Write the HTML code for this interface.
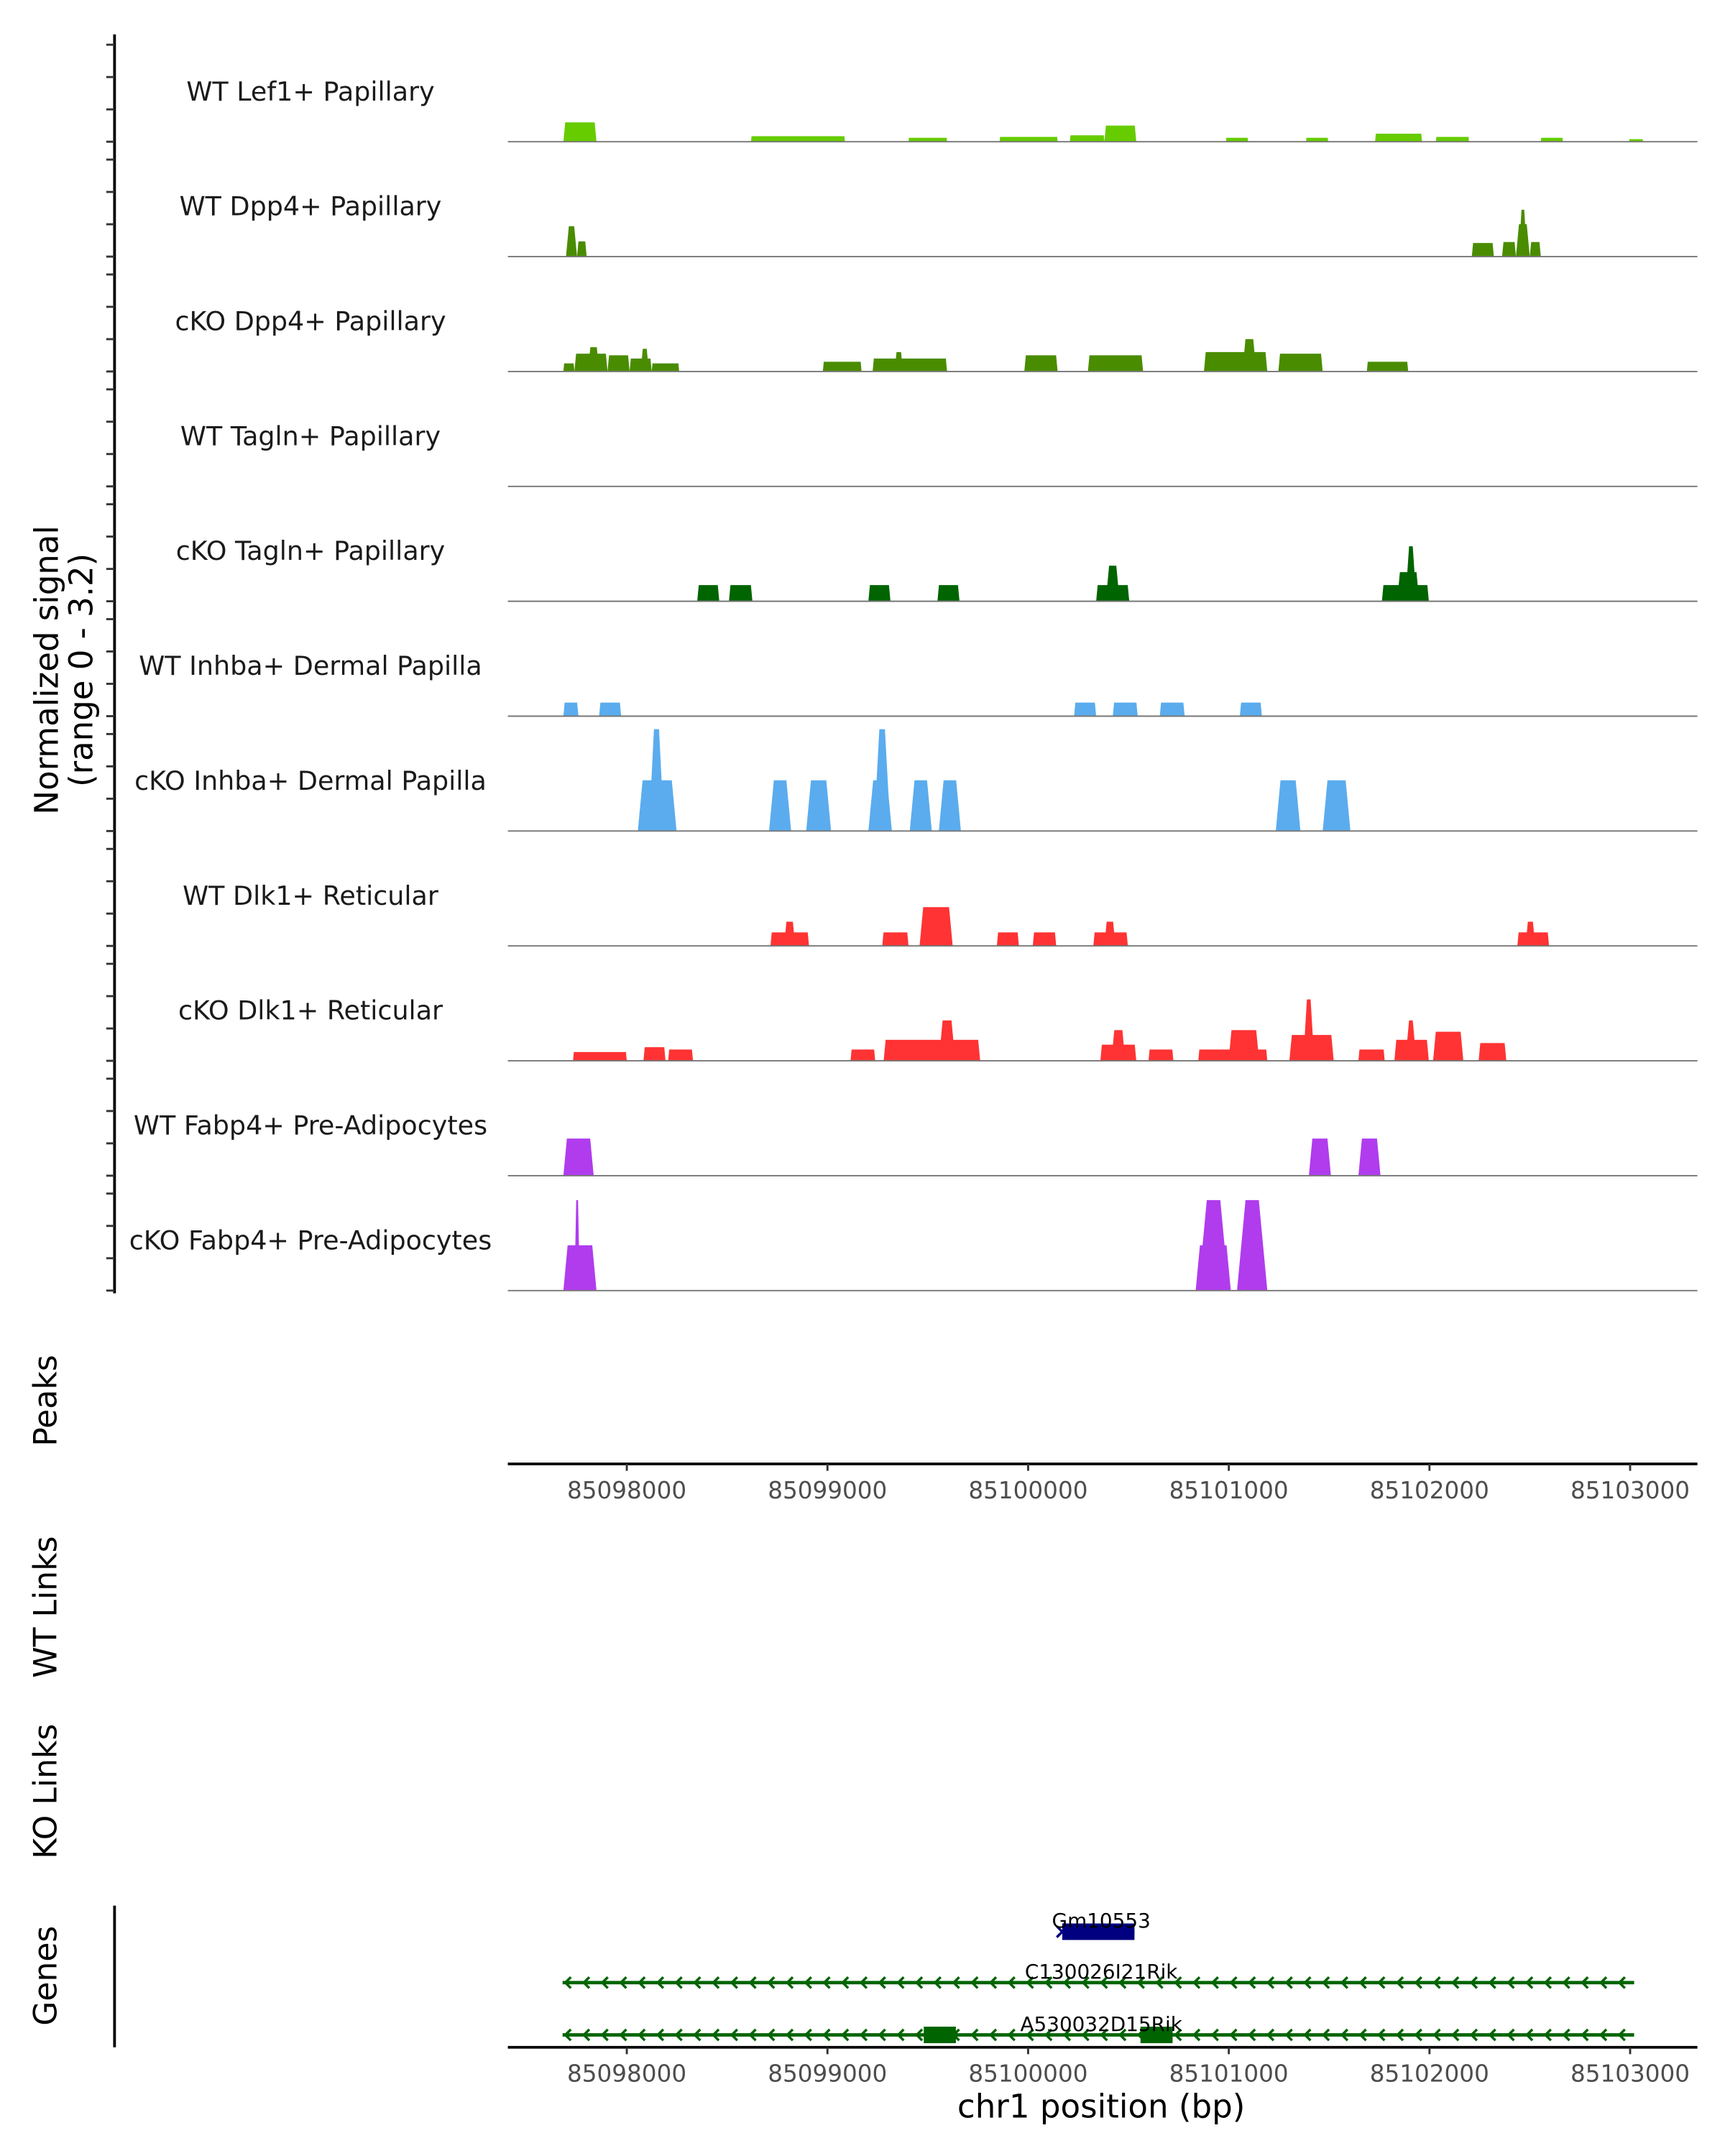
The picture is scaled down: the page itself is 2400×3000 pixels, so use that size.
<!DOCTYPE html>
<html><head><meta charset="utf-8">
<style>
html,body{margin:0;padding:0;background:#fff;}
svg{display:block;}
text{font-family:"DejaVu Sans","Liberation Sans",sans-serif;}
</style></head>
<body>
<svg id="chart" width="2400" height="3000" viewBox="0 0 1250 1567" preserveAspectRatio="none" xmlns="http://www.w3.org/2000/svg">
<g id="tracks"></g>
<line x1="83" y1="25" x2="83" y2="940" stroke="#000" stroke-width="2"/>
<g id="yticks"></g>
<text transform="translate(42,487) rotate(-90)" text-anchor="middle" font-size="23.5" fill="#000">Normalized signal</text>
<text transform="translate(67,487) rotate(-90)" text-anchor="middle" font-size="23.5" fill="#000">(range 0 - 3.2)</text>
<text transform="translate(41,1018) rotate(-90)" text-anchor="middle" font-size="23" fill="#000">Peaks</text>
<text transform="translate(41,1168) rotate(-90)" text-anchor="middle" font-size="23" fill="#000">WT Links</text>
<text transform="translate(41,1302) rotate(-90)" text-anchor="middle" font-size="23" fill="#000">KO Links</text>
<text transform="translate(41,1436) rotate(-90)" text-anchor="middle" font-size="23" fill="#000">Genes</text>
<line x1="83" y1="1385" x2="83" y2="1488" stroke="#000" stroke-width="2"/>
<g id="xaxes"></g>
<g id="genes"></g>
<text x="798" y="1539" text-anchor="middle" font-size="23.5" fill="#000">chr1 position (bp)</text>
</svg>
<script>
const trackNames = ["WT Lef1+ Papillary","WT Dpp4+ Papillary","cKO Dpp4+ Papillary","WT Tagln+ Papillary","cKO Tagln+ Papillary","WT Inhba+ Dermal Papilla","cKO Inhba+ Dermal Papilla","WT Dlk1+ Reticular","cKO Dlk1+ Reticular","WT Fabp4+ Pre-Adipocytes","cKO Fabp4+ Pre-Adipocytes"];
const trackColors = ["#66cc00","#4a8c00","#4a8c00","#006400","#006400","#5aacee","#5aacee","#ff3333","#ff3333","#b03cee","#b03cee"];
const xTicks = [85098000,85099000,85100000,85101000,85102000,85103000];
// peaks per track: [start bp, end bp, normalized signal]
const lef1WT = [[85097684,85097849,0.6],[85098619,85099087,0.17],[85099404,85099596,0.12],[85099858,85100147,0.15],[85100208,85100380,0.2],[85100380,85100539,0.5],[85100986,85101096,0.12],[85101385,85101495,0.12],[85101729,85101963,0.25],[85102032,85102197,0.15],[85102555,85102665,0.12],[85102995,85103064,0.08]];
const dpp4WT = [[85097697,85097752,0.94],[85097752,85097800,0.47],[85102211,85102321,0.42],[85102362,85102431,0.45],[85102431,85102500,1.0],[85102445,85102486,1.45],[85102500,85102555,0.45]];
const dpp4KO = [[85097684,85097739,0.25],[85097739,85097904,0.55],[85097807,85097862,0.75],[85097904,85098014,0.5],[85098014,85098124,0.4],[85098069,85098110,0.7],[85098124,85098261,0.25],[85098977,85099170,0.3],[85099225,85099596,0.4],[85099335,85099376,0.6],[85099981,85100147,0.5],[85100298,85100573,0.5],[85100876,85101192,0.6],[85101068,85101137,1.0],[85101247,85101468,0.55],[85101688,85101894,0.3]];
const taglnWT = [];
const taglnKO = [[85098351,85098461,0.5],[85098509,85098626,0.5],[85099204,85099314,0.5],[85099548,85099658,0.5],[85100339,85100504,0.5],[85100387,85100456,1.1],[85101763,85101997,0.5],[85101839,85101949,0.9],[85101880,85101935,1.7]];
const inhbaWT = [[85097684,85097759,0.42],[85097862,85097972,0.42],[85100229,85100339,0.42],[85100422,85100546,0.42],[85100656,85100780,0.42],[85101055,85101165,0.42]];
const inhbaKO = [[85098055,85098248,1.57],[85098110,85098186,3.15],[85098709,85098819,1.57],[85098894,85099018,1.57],[85099204,85099321,1.57],[85099231,85099314,3.15],[85099410,85099520,1.57],[85099555,85099665,1.57],[85101234,85101357,1.57],[85101468,85101606,1.57]];
const dlk1WT = [[85098716,85098908,0.42],[85098784,85098839,0.75],[85099273,85099404,0.42],[85099459,85099624,1.2],[85099844,85099954,0.42],[85100023,85100140,0.42],[85100325,85100497,0.42],[85100380,85100435,0.75],[85102438,85102596,0.42],[85102479,85102527,0.75]];
const dlk1KO = [[85097732,85098000,0.27],[85098083,85098193,0.42],[85098206,85098330,0.35],[85099115,85099238,0.35],[85099280,85099761,0.65],[85099555,85099637,1.25],[85100360,85100539,0.5],[85100415,85100484,0.95],[85100600,85100724,0.35],[85100848,85101192,0.35],[85100999,85101151,0.95],[85101302,85101523,0.8],[85101371,85101426,1.9],[85101646,85101777,0.35],[85101825,85101997,0.65],[85101880,85101935,1.25],[85102018,85102169,0.9],[85102245,85102383,0.55]];
const fabp4WT = [[85097684,85097835,1.15],[85101399,85101509,1.15],[85101646,85101756,1.15]];
const fabp4KO = [[85097684,85097849,1.4],[85097739,85097766,2.8],[85100835,85101010,1.4],[85100848,85101000,2.8],[85101041,85101192,2.8]];
const trackPeaks = [lef1WT,dpp4WT,dpp4KO,taglnWT,taglnKO,inhbaWT,inhbaKO,dlk1WT,dlk1KO,fabp4WT,fabp4KO];
const geneNames = ["Gm10553","C130026I21Rik","A530032D15Rik"];
const geneStarts = [85100170,85097680,85097680];
const geneEnds = [85100530,85103020,85103020];
const exonStarts = [[85100170],[],[85099480,85100560]];
const exonEnds = [[85100530],[],[85099640,85100720]];

const NS = "http://www.w3.org/2000/svg";
const x = bp => 454.2 + (bp - 85098000) * 0.14541;
const unit = 23.5;
const base = i => 103 + i * 83.5;
const y = (i, v) => base(i) - v * unit;
function mk(tag, attrs, parent) {
  const e = document.createElementNS(NS, tag);
  for (const k in attrs) e.setAttribute(k, attrs[k]);
  parent.appendChild(e);
  return e;
}
const tracks = document.getElementById('tracks');
const yt = document.getElementById('yticks');
trackNames.forEach((name, i) => {
  const g = mk('g', {}, tracks);
  
  
  const t = mk('text', {x: 225, y: base(i) - 30, 'text-anchor': 'middle', 'font-size': 19, fill: '#1a1a1a'}, g);
  t.textContent = name;
  
  
  trackPeaks[i].forEach(p => {
    const x0 = x(p[0]), x1 = x(p[1]), yy = y(i, p[2]), b = base(i);
    const inset = Math.min(p[2] * 2.2, (x1 - x0) / 3);
    const poly = mk('polygon', {points: `${x0},${b} ${x0 + inset},${yy} ${x1 - inset},${yy} ${x1},${b}`, fill: trackColors[i]}, g);
    
    
  });
  const bl = mk('line', {x1: 368, x2: 1230, y1: base(i), y2: base(i), stroke: '#777', 'stroke-width': 1}, g);
  
  
  for (let k = 0; k < 4; k++) {
    const tk = mk('line', {x1: 77, x2: 83, y1: y(i, k), y2: y(i, k), stroke: '#333', 'stroke-width': 1.5}, yt);
    
    
  }
});
const xa = document.getElementById('xaxes');
[1064, 1488].forEach(ay => {
  const l = mk('line', {x1: 368, x2: 1230, y1: ay, y2: ay, stroke: '#000', 'stroke-width': 2}, xa);
  
  
  xTicks.forEach(v => {
    const tk = mk('line', {x1: x(v), x2: x(v), y1: ay, y2: ay + 5, stroke: '#333', 'stroke-width': 1.5}, xa);
    
    
    const tl = mk('text', {x: x(v), y: ay + 25, 'text-anchor': 'middle', 'font-size': 17, fill: '#4d4d4d'}, xa);
    tl.textContent = v;
    
    
  });
});
const gg = document.getElementById('genes');
const geneY = [1404, 1441, 1479];
const geneColors = ['#000080', '#006400', '#006400'];
geneNames.forEach((n, i) => {
  const g = mk('g', {}, gg);
  
  
  const x0 = x(geneStarts[i]), x1 = x(geneEnds[i]), gy = geneY[i];
  mk('line', {x1: x0, x2: x1, y1: gy, y2: gy, stroke: geneColors[i], 'stroke-width': 2.5}, g);
  if (i > 0) {
    for (let ax = x0 + 2; ax < x1 - 4; ax += 13.4) {
      mk('polyline', {points: `${ax + 4},${gy - 4} ${ax},${gy} ${ax + 4},${gy + 4}`, fill: 'none', stroke: geneColors[i], 'stroke-width': 1.8}, g);
    }
  } else {
    mk('polyline', {points: `${x0 - 4},${gy - 4} ${x0},${gy} ${x0 - 4},${gy + 4}`, fill: 'none', stroke: geneColors[i], 'stroke-width': 1.8}, g);
  }
  exonStarts[i].forEach((s, k) => {
    mk('rect', {x: x(s), y: gy - 6, width: x(exonEnds[i][k]) - x(s), height: 12, fill: geneColors[i]}, g);
  });
  const t = mk('text', {x: 798, y: gy - 3, 'text-anchor': 'middle', 'font-size': 14.5, fill: '#000'}, g);
  t.textContent = n;
  
  
});
</script>
</body></html>
